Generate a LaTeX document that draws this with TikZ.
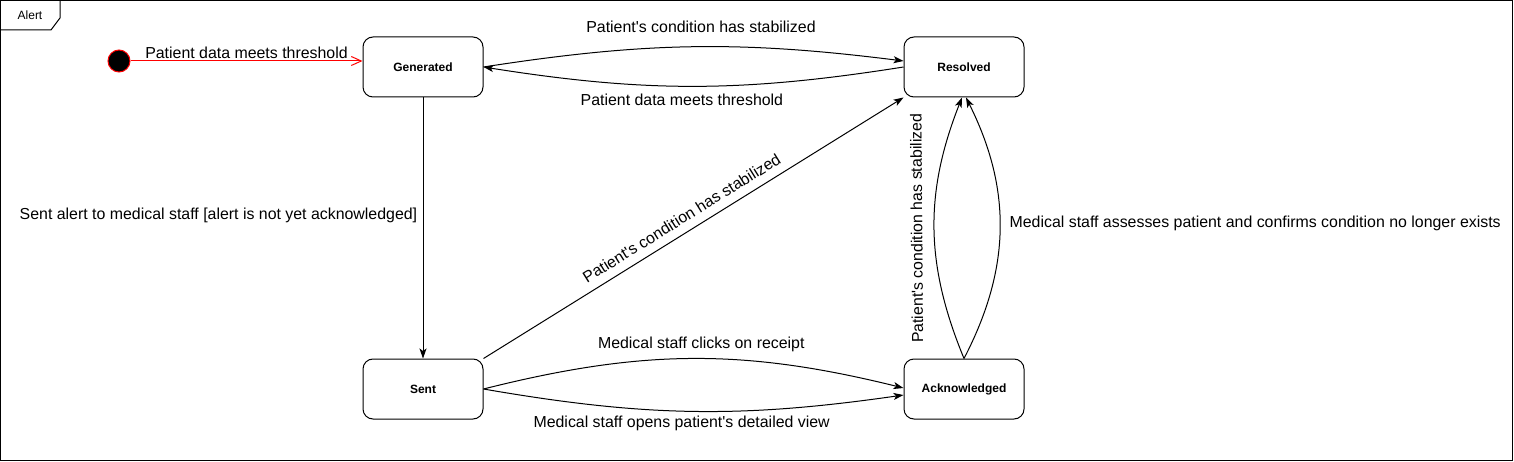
\documentclass[tikz,border=0pt]{standalone}
\usepackage{fontspec}
\setmainfont{Liberation Sans}
\usetikzlibrary{arrows.meta}

\begin{document}
\begin{tikzpicture}[x=1pt,y=-1pt,line width=1pt,
  state/.style={draw,rounded corners=10pt,minimum width=120pt,minimum height=60pt,inner sep=0pt,font=\fontsize{12}{14}\selectfont\bfseries},
  lbl/.style={font=\fontsize{15.9}{18}\selectfont},
  arr/.style={-{Stealth[length=10pt,width=7pt,inset=2.5pt]}}]
\useasboundingbox (0,0) rectangle (1514,462);
% frame with tab
\draw (0.5,0.5) rectangle (1512.5,460.5);
\draw (0.5,30) -- (51,30) -- (60,18) -- (60,0.5);
\node[font=\fontsize{12}{14}\selectfont] (tab) at (30,15.5) {Alert};

\node[circle,fill=black,draw=red,inner sep=0pt,minimum size=22pt] (init) at (119,61) {};
\node[state] (gen) at (423,67) {Generated};
\node[state] (res) at (964,67) {Resolved};
\node[state] (sent) at (423,389) {Sent};
\node[state] (ack) at (964,389) {Acknowledged};

\draw[red,-{Straight Barb[length=10pt,width=9pt]}] (init) -- ([yshift=6pt]gen.west) node[lbl,midway,above,inner sep=2pt,text=black] {Patient data meets threshold};

\draw[arr] (gen.east) to[bend left=8] node[lbl,pos=0.52,above=10pt] {Patient\textquotesingle s condition has stabilized} ([yshift=6pt]res.west);
\draw[arr] (res.west) to[bend left=9] node[lbl,pos=0.53,below=4pt] {Patient data meets threshold} (gen.east);

\draw[arr] (gen.south) -- (sent.north) node[lbl,pos=0.45,left=2pt] {Sent alert to medical staff [alert is not yet acknowledged]};
\draw[arr] (sent.north east) -- (res.south west) node[lbl,pos=0.49,sloped,above=5pt] {Patient\textquotesingle s condition has stabilized};

\draw[arr] (sent.east) to[bend left=14] node[lbl,pos=0.52,above=3pt] {Medical staff clicks on receipt} ([yshift=1pt]ack.west);
\draw[arr] (sent.east) to[bend right=9] node[lbl,pos=0.47,below=1pt] {Medical staff opens patient\textquotesingle s detailed view} ([yshift=-6pt]ack.west);

\draw[arr] (ack.north) to[bend left=22] node[lbl,midway,sloped,allow upside down,above=8pt] {Patient\textquotesingle s condition has stabilized} ([xshift=-2pt]res.south);
\draw[arr] (ack.north) to[bend right=27] node[lbl,pos=0.52,right=6pt] {Medical staff assesses patient and confirms condition no longer exists} ([xshift=2pt]res.south);
\end{tikzpicture}
\end{document}
